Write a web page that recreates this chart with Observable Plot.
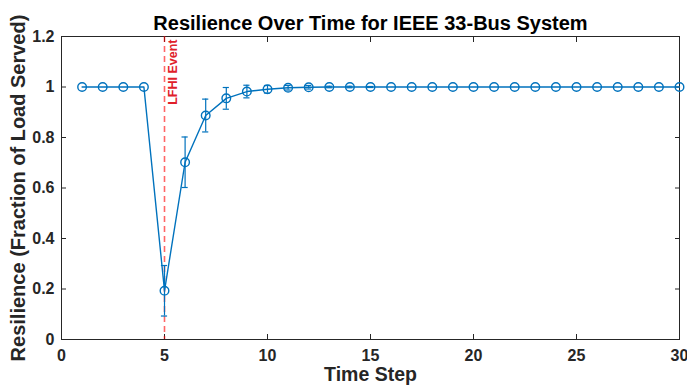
<!DOCTYPE html>
<html>
<head>
<meta charset="utf-8">
<script src="https://cdn.jsdelivr.net/npm/d3@7"></script>
<script src="https://cdn.jsdelivr.net/npm/@observablehq/plot@0.6"></script>
<style>
  html, body { margin: 0; padding: 0; background: #fff; }
  svg { display: block; }
</style>
</head>
<body>
<div id="chart"></div>
<script>
const titleText = "Resilience Over Time for IEEE 33-Bus System";
const xLabel = "Time Step";
const yLabel = "Resilience (Fraction of Load Served)";
const eventLabel = "LFHI Event";
const eventStep = 5;

const steps = [1,2,3,4,5,6,7,8,9,10,11,12,13,14,15,16,17,18,19,20,21,22,23,24,25,26,27,28,29,30];
const resilience = [1,1,1,1,0.193,0.702,0.887,0.955,0.982,0.991,0.997,0.999,1,1,1,1,1,1,1,1,1,1,1,1,1,1,1,1,1,1];
const errors = [0,0,0,0,0.100,0.100,0.065,0.043,0.025,0.015,0.009,0.007,0.003,0.003,0.002,0,0,0,0,0,0,0,0,0,0,0,0,0,0,0];

const xTicks = [0,5,10,15,20,25,30];
const yTicks = [0,0.2,0.4,0.6,0.8,1,1.2];

const data = steps.map((t, i) => ({t, r: resilience[i], e: errors[i]}));
const withErr = data.filter(d => d.e > 0);
const capHalf = 0.15;

const font = "'Liberation Sans', Arial, Helvetica, sans-serif";
const axisColor = "#262626";
const blue = "#0072BD";

const chart = Plot.plot({
  width: 687,
  height: 390,
  marginLeft: 61,
  marginRight: 8,
  marginTop: 36,
  marginBottom: 51,
  style: {fontFamily: font, fontWeight: "bold", fontSize: "16px", color: axisColor, background: "#fff"},
  x: {domain: [0, 30], ticks: xTicks, tickFormat: d => String(d), label: null},
  y: {domain: [0, 1.2], ticks: yTicks, tickFormat: d => String(d), label: null},
  marks: [
    Plot.frame({stroke: axisColor, strokeWidth: 1}),
    Plot.axisX({anchor: "bottom", ticks: xTicks, tickSize: -5, tickPadding: 15, tickFormat: d => String(d), stroke: axisColor, fill: axisColor, fontSize: 16, fontWeight: "bold"}),
    Plot.axisX({anchor: "top", ticks: xTicks, tickSize: -5, tickFormat: () => "", stroke: axisColor}),
    Plot.axisY({anchor: "left", ticks: yTicks, tickSize: -5, tickPadding: 12, tickFormat: d => String(d), stroke: axisColor, fill: axisColor, fontSize: 16, fontWeight: "bold"}),
    Plot.axisY({anchor: "right", ticks: yTicks, tickSize: -5, tickFormat: () => "", stroke: axisColor}),
    Plot.ruleX([eventStep], {x: d => d, stroke: "#ff0000", strokeOpacity: 0.6, strokeWidth: 1.6, strokeDasharray: "6,4"}),
    Plot.text([eventLabel], {x: () => eventStep, y: () => 1.2, text: d => d, rotate: -90, textAnchor: "end", lineAnchor: "middle", dx: 8, dy: 3, fill: "#e0202a", fontSize: 12.5, fontWeight: "bold"}),
    Plot.line(data, {x: "t", y: "r", stroke: blue, strokeWidth: 1.4}),
    Plot.ruleX(withErr, {x: "t", y1: d => d.r - d.e, y2: d => d.r + d.e, stroke: blue, strokeWidth: 1.2}),
    Plot.ruleY(withErr, {y: d => d.r - d.e, x1: d => d.t - capHalf, x2: d => d.t + capHalf, stroke: blue, strokeWidth: 1.2}),
    Plot.ruleY(withErr, {y: d => d.r + d.e, x1: d => d.t - capHalf, x2: d => d.t + capHalf, stroke: blue, strokeWidth: 1.2}),
    Plot.dot(data, {x: "t", y: "r", r: 4.3, stroke: blue, strokeWidth: 1.4, fill: "none"}),
    Plot.text([titleText], {frameAnchor: "top", text: d => d, dy: -21, fontSize: 20, fontWeight: "bold", fill: "#000"}),
    Plot.text([xLabel], {frameAnchor: "bottom", text: d => d, dy: 41, fontSize: 19.5, fontWeight: "bold", fill: "#262626"}),
    Plot.text([yLabel], {frameAnchor: "left", text: d => d, rotate: -90, textAnchor: "middle", dx: -43, fontSize: 20, fontWeight: "bold", fill: "#262626"})
  ]
});
document.getElementById("chart").appendChild(chart);
</script>
</body>
</html>
